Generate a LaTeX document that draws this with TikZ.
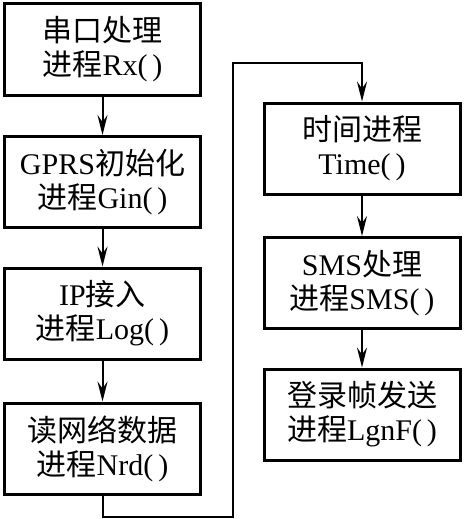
\documentclass[tikz,border=0pt]{standalone}
\usepackage{fontspec}
\setmainfont{Liberation Serif}
\newfontfamily\cjk{Noto Sans CJK SC}
\usetikzlibrary{arrows.meta,positioning,calc}

\tikzset{
    procbox/.style={draw, line width=3pt, minimum width=196pt, minimum height=91pt,
        inner sep=0pt, align=center, font=\fontsize{30}{34}\selectfont},
    flow/.style={line width=2pt, -{Stealth[length=20pt,width=10pt,inset=7pt]}}
}

\begin{document}
\begin{tikzpicture}[x=1pt,y=-1pt]
    \useasboundingbox (0,0) rectangle (464,519);

    % Left column
    \node [procbox] (rx)  at (102.5, 49.5)  {{\cjk 串口处理}\\{\cjk 进程}Rx(\,)};
    \node [procbox] (gin) at (102.5, 182)   {GPRS{\cjk 初始化}\\{\cjk 进程}Gin(\,)};
    \node [procbox] (log) at (102.5, 313.5) {IP{\cjk 接入}\\{\cjk 进程}Log(\,)};
    \node [procbox] (nrd) at (102.5, 448.5) {{\cjk 读网络数据}\\{\cjk 进程}Nrd(\,)};

    % Right column
    \node [procbox] (time) at (362, 148.5) {{\cjk 时间进程}\\Time(\,)};
    \node [procbox] (sms)  at (362, 283)   {SMS{\cjk 处理}\\{\cjk 进程}SMS(\,)};
    \node [procbox] (lgnf) at (362, 414.5) {{\cjk 登录帧发送}\\{\cjk 进程}LgnF(\,)};

    % Arrows
    \draw [flow] (rx) -- (gin);
    \draw [flow] (gin) -- (log);
    \draw [flow] (log) -- (nrd);
    \draw [flow] (time) -- (sms);
    \draw [flow] (sms) -- (lgnf);

    % Return path to the right column
    \coordinate (turnA) at (233, 517);
    \coordinate (turnB) at (233, 63);
    \draw [flow] (nrd.south) |- (turnA) -- (turnB) -| (time.north);
\end{tikzpicture}
\end{document}
